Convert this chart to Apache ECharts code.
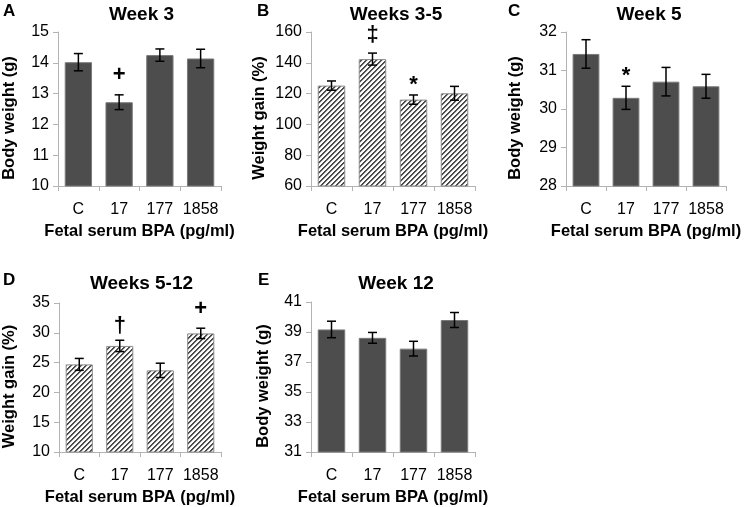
<!DOCTYPE html>
<html>
<head>
<meta charset="utf-8">
<script src="https://cdn.jsdelivr.net/npm/echarts@6/dist/echarts.min.js"></script>
<style>
html,body{margin:0;padding:0;background:#fff;}
#chart{width:751px;height:507px;}
</style>
</head>
<body>
<div id="chart"></div>
<script>
// ---- data ----
const categories = ['C', '17', '177', '1858'];

const week3Weight = [14.02, 12.72, 14.25, 14.14];
const week3Err = [0.28, 0.24, 0.20, 0.30];
const week3Sig = ['', '+', '', ''];

const gain3to5 = [125.2, 142.4, 116.1, 120.2];
const gain3to5Err = [3.0, 3.9, 3.0, 4.5];
const gain3to5Sig = ['', '\u2021', '*', ''];

const week5Weight = [31.43, 30.29, 30.71, 30.59];
const week5Err = [0.37, 0.30, 0.37, 0.31];
const week5Sig = ['', '*', '', ''];

const gain5to12 = [24.7, 27.8, 23.7, 29.9];
const gain5to12Err = [1.0, 0.95, 1.2, 0.87];
const gain5to12Sig = ['', '\u2020', '', '+'];

const week12Weight = [39.17, 38.61, 37.89, 39.80];
const week12Err = [0.55, 0.36, 0.49, 0.50];
const week12Sig = ['', '', '', ''];

const panelLetters = ['A', 'B', 'C', 'D', 'E'];
const panelTitles = ['Week 3', 'Weeks 3-5', 'Week 5', 'Weeks 5-12', 'Week 12'];
const yNames = ['Body weight (g)', 'Weight gain (%)', 'Body weight (g)', 'Weight gain (%)', 'Body weight (g)'];
const xName = 'Fetal serum BPA (pg/ml)';
const yMin = [10, 60, 28, 10, 31];
const yMax = [15, 160, 32, 35, 41];
const yInterval = [1, 20, 1, 5, 2];

// ---- layout / style ----
const FONT = 'Liberation Sans, Arial, sans-serif';
const grids = [
  {left: 56, top: 32, width: 165, height: 154},
  {left: 311, top: 32, width: 164, height: 154},
  {left: 566, top: 32, width: 160, height: 154},
  {left: 56, top: 303, width: 165, height: 152},
  {left: 311, top: 302, width: 164, height: 153}
];
const titleTops = [0, 0, 0, 269, 269];
const letterPos = [[3, 3], [257, 3], [508, 3], [3, 272], [258, 272]];
const yNameGaps = [40, 43, 42, 41, 39];
const hatched = [false, true, false, true, false];
const sigOffset = {'+': 19.5, '\u2021': 18, '*': 10.5, '\u2020': 14};
const panels = [
  {v: week3Weight, e: week3Err, s: week3Sig},
  {v: gain3to5, e: gain3to5Err, s: gain3to5Sig},
  {v: week5Weight, e: week5Err, s: week5Sig},
  {v: gain5to12, e: gain5to12Err, s: gain5to12Sig},
  {v: week12Weight, e: week12Err, s: week12Sig}
];

// hatch tile: "/" diagonal stripes, pixel exact
function makeHatch() {
  const s = 5;
  const c = document.createElement('canvas');
  c.width = s; c.height = s;
  const ctx = c.getContext('2d');
  for (let y = 0; y < s; y++) {
    for (let x = 0; x < s; x++) {
      const d = (x + y) % s;
      ctx.fillStyle = d < 2 ? '#4d4d4d' : (d === 2 ? '#d9d9d9' : '#ffffff');
      ctx.fillRect(x, y, 1, 1);
    }
  }
  return c;
}
const hatchTile = makeHatch();

const axisColor = '#b3b3b3';
const titles = [];
const xAxes = [];
const yAxes = [];
const series = [];

grids.forEach(function (g, i) {
  const cx = g.left + g.width / 2;
  titles.push({
    text: panelTitles[i], left: cx - 2, top: titleTops[i], textAlign: 'center',
    textStyle: {fontFamily: FONT, fontWeight: 'bold', fontSize: 19, color: '#000'}
  });
  titles.push({
    text: panelLetters[i], left: letterPos[i][0], top: letterPos[i][1], padding: 0,
    textStyle: {fontFamily: FONT, fontWeight: 'bold', fontSize: 17, color: '#000'}
  });
  xAxes.push({
    type: 'category', gridIndex: i, data: categories,
    name: xName, nameLocation: 'middle', nameGap: 37,
    nameTextStyle: {fontFamily: FONT, fontWeight: 'bold', fontSize: 16.5, color: '#000'},
    axisLine: {lineStyle: {color: axisColor, width: 1}},
    axisTick: {show: true, length: 5, lineStyle: {color: axisColor}},
    axisLabel: {fontFamily: FONT, fontSize: 16, color: '#000', margin: 16, interval: 0}
  });
  yAxes.push({
    type: 'value', gridIndex: i, min: yMin[i], max: yMax[i], interval: yInterval[i],
    name: yNames[i], nameLocation: 'middle', nameGap: yNameGaps[i],
    nameTextStyle: {fontFamily: FONT, fontWeight: 'bold', fontSize: 16.5, color: '#000', padding: [0, 18, 0, 0]},
    axisLine: {show: true, lineStyle: {color: axisColor, width: 1}},
    axisTick: {show: true, length: 5, lineStyle: {color: axisColor}},
    axisLabel: {fontFamily: FONT, fontSize: 16, color: '#000', margin: 9},
    splitLine: {show: false}
  });
  const p = panels[i];
  const itemStyle = hatched[i] ? {
    color: {image: hatchTile, repeat: 'repeat'}, borderColor: '#8c8c8c', borderWidth: 1
  } : {color: '#4d4d4d', borderColor: '#7a7a7a', borderWidth: 1};
  series.push({
    type: 'bar', xAxisIndex: i, yAxisIndex: i, data: p.v, barWidth: '67%', z: 2,
    itemStyle: itemStyle, silent: true, animation: false
  });
  series.push({
    type: 'custom', xAxisIndex: i, yAxisIndex: i, animation: false, silent: true, z: 5,
    encode: {x: 0, y: 1},
    data: p.v.map(function (v, k) { return [k, v, p.e[k]]; }),
    renderItem: function (params, api) {
      const k = api.value(0);
      const v = api.value(1);
      const e = api.value(2);
      const sig = p.s[k];
      const top = api.coord([k, v + e]);
      const bot = api.coord([k, v - e]);
      const hw = 4.5;
      const st = {stroke: '#000', lineWidth: 1.5};
      const children = [
        {type: 'line', shape: {x1: top[0], y1: top[1], x2: bot[0], y2: bot[1]}, style: st},
        {type: 'line', shape: {x1: top[0] - hw, y1: top[1], x2: top[0] + hw, y2: top[1]}, style: st},
        {type: 'line', shape: {x1: bot[0] - hw, y1: bot[1], x2: bot[0] + hw, y2: bot[1]}, style: st}
      ];
      if (sig) {
        children.push({type: 'text', style: {
          text: sig, x: top[0], y: top[1] - (sigOffset[sig] || 17), align: 'center', verticalAlign: 'middle',
          font: 'bold 22px ' + FONT, fill: '#000'
        }});
      }
      return {type: 'group', children: children};
    }
  });
});

const chart = echarts.init(document.getElementById('chart'), null, {renderer: 'canvas'});
chart.setOption({
  backgroundColor: '#fff',
  animation: false,
  title: titles,
  grid: grids,
  xAxis: xAxes,
  yAxis: yAxes,
  series: series
});
</script>
</body>
</html>
